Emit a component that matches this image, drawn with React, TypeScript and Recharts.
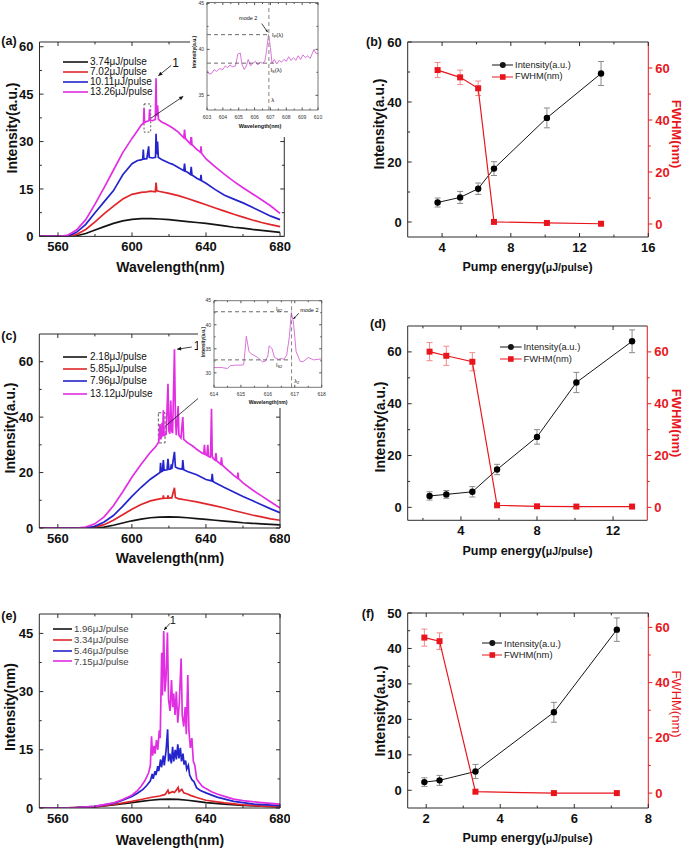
import React from "react";
import {
  LineChart,
  Line,
  XAxis,
  YAxis,
  ErrorBar,
  Legend,
  ReferenceLine,
  ReferenceArea,
  ReferenceDot,
} from "recharts";

const FONT = '"Liberation Sans", Arial, Helvetica, sans-serif';
const AXIS = "#2b2b2b";
const C_BLACK = "#141414";
const C_RED = "#e0262a";
const C_BLUE = "#2424cc";
const C_MAG = "#e22ee2";
const C_FWHM = "#e8161c";
const SPEC_COLORS = [C_BLACK, C_RED, C_BLUE, C_MAG];

type P = [number, number];

// ---------- (a) spectra ----------
const aLabels = ["3.74μJ/pulse", "7.02μJ/pulse", "10.11μJ/pulse", "13.26μJ/pulse"];
const a374: P[] = [[550, 0], [566, 0], [570, 0.2], [575, 0.9], [580, 2.0], [585, 3.1], [590, 4.1], [595, 4.9], [600, 5.4], [605, 5.6], [610, 5.6], [615, 5.5], [620, 5.3], [625, 5.0], [630, 4.7], [635, 4.4], [640, 4.1], [645, 3.7], [650, 3.3], [655, 2.9], [660, 2.6], [665, 2.2], [670, 1.9], [675, 1.6], [680, 1.3]];
const a702: P[] = [[550, 0], [565, 0], [570, 0.6], [575, 2.2], [580, 4.6], [585, 7.2], [590, 9.6], [595, 11.8], [600, 13.3], [605, 13.9], [608, 14.1], [610, 14.3], [612.6, 14.1], [613, 17], [613.4, 14.4], [615, 14.2], [620, 13.6], [625, 12.9], [630, 12.0], [635, 11.0], [640, 10.0], [645, 9.0], [650, 8.0], [655, 7.0], [660, 6.1], [665, 5.2], [670, 4.4], [675, 3.7], [680, 3.1]];
const a1011: P[] = [[550, 0], [565, 0], [570, 1.3], [575, 3.8], [580, 7.5], [585, 11.0], [590, 14.5], [595, 19.5], [600, 23], [603, 24], [605, 24.2], [605.8, 24.5], [606.1, 27.5], [606.4, 24.5], [608, 24.6], [609, 28.5], [609.3, 25], [611, 24.8], [612.7, 25], [613, 32.5], [613.3, 26], [613.8, 30], [614.2, 25], [616, 24.3], [618, 23.8], [620, 23.2], [622, 22.8], [625, 21.8], [628, 20.8], [628.4, 23], [628.8, 20.6], [630, 20.3], [631.6, 19.6], [632, 22], [632.4, 19.4], [635, 18.4], [637, 17.8], [637.3, 19.5], [637.6, 17.6], [640, 16.8], [645, 14.8], [650, 13], [655, 11.8], [660, 10.6], [665, 9.2], [670, 7.8], [675, 6.4], [680, 5.3]];
const a1326: P[] = [[550, 0], [560, 0], [565, 0.3], [570, 2.0], [575, 5.3], [580, 10.2], [585, 15.5], [590, 21], [595, 26.5], [600, 31], [603, 33.5], [605, 35.2], [606.2, 35.8], [606.5, 40.5], [606.8, 36], [608, 36.4], [609.2, 36.6], [609.5, 40.2], [609.8, 36.8], [611, 36.6], [612.6, 37], [613, 50], [613.3, 38], [613.8, 41.5], [614.3, 37], [616, 36.2], [618, 35.6], [620, 35], [622, 34.3], [625, 33], [628, 31.2], [628.4, 33.8], [628.8, 31], [630, 30.2], [631.6, 29.2], [632, 32.5], [632.4, 29], [635, 27.5], [637, 26.6], [637.3, 28.5], [637.6, 26.3], [640, 24.5], [645, 22], [650, 19.6], [655, 17.4], [660, 15.4], [665, 13.5], [670, 11.6], [675, 9.6], [680, 7.3]];
// inset (a): 603-610 nm zoom of the 13.26 µJ trace
const aInset: P[] = [[603, 37.7], [603.15, 37.3], [603.3, 37.4], [603.45, 37.8], [603.6, 37.6], [603.8, 37.9], [604, 37.8], [604.15, 38.2], [604.3, 38.0], [604.45, 38.3], [604.6, 38.1], [604.8, 38.2], [604.95, 39.5], [605.1, 39.6], [605.2, 38.4], [605.35, 37.8], [605.5, 38.3], [605.6, 38.9], [605.75, 38.2], [605.9, 38.5], [606.05, 38.7], [606.2, 38.3], [606.35, 38.6], [606.5, 38.5], [606.65, 38.7], [606.75, 39.8], [606.88, 41.6], [607.0, 40.2], [607.1, 38.5], [607.25, 38.9], [607.4, 38.4], [607.55, 38.8], [607.7, 38.6], [607.85, 38.9], [608, 38.7], [608.15, 39.2], [608.3, 38.8], [608.45, 39.1], [608.6, 38.8], [608.75, 39.3], [608.9, 38.9], [609.05, 39.4], [609.2, 39.1], [609.35, 39.3], [609.5, 39.0], [609.65, 39.6], [609.75, 40.0], [609.85, 39.6], [610, 39.5]];

// ---------- (c) spectra ----------
const cLabels = ["2.18μJ/pulse", "5.85μJ/pulse", "7.96μJ/pulse", "13.12μJ/pulse"];
const c218: P[] = [[550, 0], [580, 0], [585, 0.3], [590, 1.0], [595, 1.8], [600, 2.6], [605, 3.2], [610, 3.7], [615, 3.9], [620, 4.0], [625, 3.9], [630, 3.7], [635, 3.4], [640, 3.1], [645, 2.8], [650, 2.5], [655, 2.2], [660, 1.9], [665, 1.7], [670, 1.5], [675, 1.3], [680, 1.1]];
const c585: P[] = [[550, 0], [575, 0], [580, 0.3], [585, 1.2], [590, 2.8], [595, 4.8], [600, 6.8], [605, 8.5], [610, 9.8], [615, 10.5], [616.8, 10.7], [617, 11.8], [617.3, 10.7], [619.2, 10.8], [619.5, 11.8], [619.8, 10.8], [621, 10.9], [621.5, 10.8], [623, 14.5], [623.5, 11], [625, 10.6], [630, 10], [635, 9.4], [640, 8.7], [645, 8], [650, 7.2], [655, 6.3], [660, 5.5], [665, 4.7], [670, 4.0], [675, 3.3], [680, 2.8]];
const c796: P[] = [[550, 0], [575, 0], [580, 0.6], [585, 2.2], [590, 4.5], [595, 7.8], [600, 11.4], [605, 14.7], [610, 17.6], [614, 19.5], [615.2, 20], [615.5, 23.5], [615.8, 20.3], [616.5, 20.5], [617, 24.5], [617.4, 20.8], [619, 21], [619.5, 25], [620, 21.2], [621, 21.3], [621.3, 23], [621.6, 21.3], [623, 27.5], [623.5, 22], [625, 21.5], [627.2, 21.2], [627.5, 24.5], [628, 21], [630, 20.4], [635, 19.2], [640, 17.5], [643, 17], [643.4, 19.5], [643.8, 16.8], [645, 16.3], [650, 14.6], [655, 13], [660, 11.4], [665, 9.9], [670, 8.4], [675, 6.9], [680, 5.5]];
const c1312: P[] = [[550, 0], [570, 0], [575, 0.3], [580, 1.5], [585, 4], [590, 8], [595, 13], [600, 18.3], [605, 23], [610, 27.3], [613, 29.5], [614.5, 31], [615.2, 37.5], [615.5, 32], [616, 32.8], [616.3, 38], [616.6, 33], [617, 42.5], [617.4, 33.5], [618.5, 33.8], [619.5, 52], [620, 35], [620.5, 34], [621, 46], [621.5, 35], [622, 34.2], [623, 64.5], [623.5, 40], [624, 33.5], [625, 44], [625.4, 33.5], [626.5, 32.5], [627.5, 40], [628, 32], [630, 30.8], [633, 29.5], [635, 28.4], [638, 27], [638.8, 26.8], [639.2, 30], [639.6, 26.5], [640.5, 26.2], [641, 30], [641.4, 25.8], [642.5, 25.5], [643, 43], [643.4, 26], [644, 25], [645, 24.5], [645.4, 27], [645.8, 24.2], [648, 23], [648.4, 25.5], [648.8, 22.8], [650, 22], [655, 19], [657, 18], [657.3, 20], [657.6, 17.8], [660, 16.3], [665, 13.8], [670, 11.6], [675, 9.4], [680, 7.2]];
// inset (c): 614-618 nm zoom of the 13.12 µJ trace
const cInset: P[] = [[614, 31.1], [614.3, 31.1], [614.5, 30.9], [614.6, 31.5], [614.8, 31.6], [615, 31.6], [615.1, 31.7], [615.15, 34.4], [615.2, 37.6], [615.3, 34.4], [615.4, 33.9], [615.6, 33.3], [615.8, 32.3], [615.9, 32.4], [616.0, 33.5], [616.05, 35.6], [616.15, 35.1], [616.25, 33.2], [616.4, 32.8], [616.5, 33.0], [616.6, 32.8], [616.7, 33.7], [616.8, 37.5], [616.87, 42.5], [616.95, 40.6], [617.05, 34.4], [617.2, 32.4], [617.3, 32.3], [617.5, 33.2], [617.7, 32.7], [617.85, 32.8], [618, 32.9]];

// ---------- (e) spectra ----------
const eLabels = ["1.96μJ/pulse", "3.34μJ/pulse", "5.46μJ/pulse", "7.15μJ/pulse"];
const e196: P[] = [[550, 0], [560, 0], [570, 0.1], [580, 0.3], [590, 0.8], [600, 1.4], [605, 1.7], [610, 2.0], [615, 2.2], [620, 2.3], [625, 2.2], [630, 2.0], [635, 1.7], [640, 1.4], [650, 1.0], [660, 0.7], [670, 0.45], [680, 0.3]];
const e334: P[] = [[550, 0], [560, 0], [570, 0.1], [580, 0.3], [590, 0.9], [600, 1.7], [605, 2.2], [610, 2.7], [615, 3.1], [618, 3.5], [619.5, 4.6], [620, 3.8], [622, 4.2], [623, 4.0], [624, 4.6], [625, 5.3], [625.5, 4.2], [627, 4.8], [628, 3.9], [630, 3.6], [632, 3.2], [635, 2.7], [640, 2.0], [650, 1.3], [660, 0.8], [670, 0.5], [680, 0.35]];
const e546: P[] = [[550, 0], [560, 0], [570, 0.1], [580, 0.4], [590, 1.2], [595, 2], [600, 3], [603, 3.8], [606, 4.8], [608, 5.8], [610, 7], [611, 8.8], [611.5, 7.5], [612.5, 9.5], [613, 8.5], [614, 10.8], [614.5, 9.5], [615.5, 12.5], [616, 10.5], [617, 13.5], [617.5, 11], [618.5, 15], [619.3, 20.3], [619.8, 12], [620.5, 14], [621.3, 11.5], [622, 15.8], [622.6, 12], [623.4, 15], [624, 12.5], [624.8, 16.4], [625.4, 12.8], [626.2, 15.5], [626.8, 12], [627.6, 14], [628.2, 11.2], [629, 12.2], [629.6, 10], [630.5, 11], [631.2, 8.5], [632.4, 7.3], [633.5, 6.8], [635, 5.2], [637, 4.5], [640, 3.9], [646, 2.8], [655, 1.7], [666, 1.0], [680, 0.6]];
const e715: P[] = [[550, 0], [560, 0], [570, 0.1], [580, 0.4], [590, 1.3], [595, 2.2], [600, 3.3], [603, 4.5], [605, 5.6], [607, 7], [609, 9], [610, 11], [610.6, 18.5], [611.2, 13.5], [612, 16], [612.5, 14], [613.3, 17.5], [614, 15], [614.8, 20], [615.3, 18], [616.1, 40], [616.5, 29], [617.2, 45.6], [617.8, 30], [618.4, 33], [619.2, 45.2], [619.8, 28], [620.6, 25], [621.4, 33], [622, 26], [622.6, 29.5], [623.3, 24], [624, 30], [624.8, 22], [625.6, 27], [626.6, 38.5], [627.2, 24], [628, 21], [628.8, 26], [629.4, 19], [630.2, 34.3], [630.8, 20], [631.6, 15.5], [632.4, 18], [633.2, 12], [634, 11], [635, 7.5], [636.5, 6.5], [638, 5.6], [640, 5.0], [643, 4.2], [646, 3.6], [650, 3.0], [655, 2.3], [660, 1.9], [670, 1.4], [680, 1.0]];

// ---------- (b) (d) (f) pump-energy series ----------
const bEnergy = [3.74, 5.05, 6.1, 7.02, 10.1, 13.25];
const bInt = [6.5, 8.2, 11.1, 17.8, 34.7, 49.5];
const bIntErr = [1.5, 2, 1.9, 2.3, 3.3, 4];
const bFwhm = [59.2, 56.4, 52.2, 0.8, 0.4, 0.1];
const bFwhmErr = [2.9, 2.8, 2.8, 0, 0, 0];

const dEnergy = [2.35, 3.23, 4.6, 5.9, 8.0, 10.07, 13.0];
const dInt = [4.4, 5.0, 6.0, 14.6, 27.2, 48.2, 64.1];
const dIntErr = [1.6, 1.5, 2, 2, 2.8, 3.9, 4.4];
const dFwhm = [60.1, 58.5, 56.2, 0.8, 0.4, 0.3, 0.3];
const dFwhmErr = [3.5, 3.7, 3.5, 0, 0, 0, 0];

const fEnergy = [1.95, 2.36, 3.33, 5.45, 7.15];
const fInt = [2.3, 2.8, 5.3, 22.0, 45.3];
const fIntErr = [1.2, 1.4, 2, 2.8, 3.3];
const fFwhm = [56.3, 55.0, 0.5, 0, 0];
const fFwhmErr = [3.1, 3, 0, 0, 0];

const specXTicks = [560, 580, 600, 620, 640, 660, 680];
const specXMajor = [560, 600, 640, 680];

const toRows = (a: P[]) => a.map(([x, y]) => ({ x, y }));
const pumpRows = (e: number[], i: number[], ie: number[], f: number[], fe: number[]) =>
  e.map((v, k) => ({ e: v, i: i[k], ie: ie[k], f: f[k], fe: fe[k] }));

type Side = "bottom" | "top" | "left" | "right";
interface TickOpt {
  side: Side;
  majors: number[];
  labels?: boolean;
  out?: boolean;
  color?: string;
  textColor?: string;
  size?: number;
  len?: number;
  gap?: number;
  weight?: number;
}

function ticker(o: TickOpt) {
  const len = o.len ?? 4;
  const size = o.size ?? 13;
  const gap = o.gap ?? 6;
  const color = o.color ?? AXIS;
  return (p: any) => {
    const v: number = p.payload.value;
    const major = o.majors.some((m) => Math.abs(m - v) < 1e-9);
    const l = major ? len : len * 0.6;
    const s = o.out ? 1 : -1;
    const txt = o.labels && major ? String(v) : null;
    const st = { fontFamily: FONT, fontSize: size, fontWeight: o.weight ?? 700, fill: o.textColor ?? "#111" };
    if (o.side === "bottom" || o.side === "top") {
      const d = o.side === "bottom" ? 1 : -1;
      return (
        <g>
          <line x1={p.x} y1={p.y} x2={p.x} y2={p.y + d * s * l} stroke={color} strokeWidth={1} />
          {txt && (
            <text x={p.x} y={p.y + d * gap} textAnchor="middle" style={st}>
              {txt}
            </text>
          )}
        </g>
      );
    }
    const d = o.side === "right" ? 1 : -1;
    return (
      <g>
        <line x1={p.x} y1={p.y} x2={p.x + d * s * l} y2={p.y} stroke={color} strokeWidth={1} />
        {txt && (
          <text x={p.x + d * gap} y={p.y + size * 0.35} textAnchor={d > 0 ? "start" : "end"} style={st}>
            {txt}
          </text>
        )}
      </g>
    );
  };
}

const arrowShape = (head = 4.5, color = "#111") => (p: any) => {
  const { x1, y1, x2, y2 } = p;
  if ([x1, y1, x2, y2].some((v) => typeof v !== "number" || isNaN(v))) return <g />;
  const a = Math.atan2(y2 - y1, x2 - x1);
  const h1x = x2 - head * Math.cos(a - 0.45);
  const h1y = y2 - head * Math.sin(a - 0.45);
  const h2x = x2 - head * Math.cos(a + 0.45);
  const h2y = y2 - head * Math.sin(a + 0.45);
  return (
    <g>
      <line x1={x1} y1={y1} x2={x2} y2={y2} stroke={color} strokeWidth={0.8} />
      <polygon points={`${x2},${y2} ${h1x},${h1y} ${h2x},${h2y}`} fill={color} />
    </g>
  );
};

const noteShape = (content: React.ReactNode, size: number, anchor = "middle", color = "#111") => (p: any) => (
  <text x={p.cx} y={p.cy + size * 0.35} textAnchor={anchor} style={{ fontFamily: FONT, fontSize: size, fill: color }}>
    {content}
  </text>
);

function Txt(props: { x: number; y: number; rot?: number; size: number; bold?: boolean; color?: string; children: React.ReactNode }) {
  const { x, y, rot, size, bold, color, children } = props;
  return (
    <div
      style={{
        position: "absolute",
        left: x,
        top: y,
        transform: `translate(-50%, -50%)${rot ? ` rotate(${rot}deg)` : ""}`,
        whiteSpace: "nowrap",
        fontFamily: FONT,
        fontSize: size,
        fontWeight: bold ? 700 : 400,
        color: color ?? "#111",
        lineHeight: 1,
      }}
    >
      {children}
    </div>
  );
}

interface LegendSpec {
  x: number; // page x of line sample start
  y: number; // page y of first row centre
  step: number;
  lineLen: number;
  gap: number;
  size: number;
  textColor: string;
}

function SpecLegend({ labels, spec }: { labels: string[]; spec: LegendSpec }) {
  return (
    <div style={{ position: "relative", width: 140, height: spec.step * labels.length }}>
      {labels.map((t, i) => (
        <div
          key={t}
          style={{ position: "absolute", left: 0, top: i * spec.step, height: spec.step, display: "flex", alignItems: "center", whiteSpace: "nowrap" }}
        >
          <svg width={spec.lineLen} height={4} style={{ display: "block" }}>
            <line x1={0} y1={2} x2={spec.lineLen} y2={2} stroke={SPEC_COLORS[i]} strokeWidth={1.6} />
          </svg>
          <span style={{ marginLeft: spec.gap, fontFamily: FONT, fontSize: spec.size, color: spec.textColor, lineHeight: 1 }}>{t}</span>
        </div>
      ))}
    </div>
  );
}

// axes are 1px thick so Recharts draws them; margins absorb that pixel
function SpectrumPanel(props: {
  plot: [number, number, number, number];
  xDom: [number, number];
  yDom: [number, number];
  yTicks: number[];
  yMajor: number[];
  series: P[][];
  labels: string[];
  legend: LegendSpec;
  children?: React.ReactNode;
}) {
  const [L, T, R, B] = props.plot;
  const top = T - 14;
  const width = R + 10;
  const height = B - top + 30;
  const lg = props.legend;
  return (
    <div style={{ position: "absolute", left: 0, top, width, height }}>
      <LineChart width={width} height={height} margin={{ top: 13, right: 9, bottom: 29, left: L - 1 }}>
        <XAxis xAxisId="b" type="number" dataKey="x" domain={props.xDom} allowDataOverflow ticks={specXTicks} interval={0} height={1} tickSize={0} tickMargin={0} tickLine={false} axisLine={{ stroke: AXIS }} tick={ticker({ side: "bottom", majors: specXMajor, labels: true, gap: 14.5 })} />
        <XAxis xAxisId="t" orientation="top" type="number" dataKey="x" domain={props.xDom} allowDataOverflow ticks={specXTicks} interval={0} height={1} tickSize={0} tickMargin={0} tickLine={false} axisLine={{ stroke: AXIS }} tick={ticker({ side: "top", majors: specXMajor })} />
        <YAxis yAxisId="l" type="number" domain={props.yDom} allowDataOverflow ticks={props.yTicks} interval={0} width={1} tickSize={0} tickMargin={0} tickLine={false} axisLine={{ stroke: AXIS }} tick={ticker({ side: "left", majors: props.yMajor, labels: true })} />
        <YAxis yAxisId="r" orientation="right" type="number" domain={props.yDom} allowDataOverflow ticks={props.yTicks} interval={0} width={1} tickSize={0} tickMargin={0} tickLine={false} axisLine={{ stroke: AXIS }} tick={ticker({ side: "right", majors: props.yMajor })} />
        {props.series.map((s, i) => (
          <Line key={props.labels[i]} name={props.labels[i]} xAxisId="b" yAxisId="l" data={toRows(s)} dataKey="y" type="linear" stroke={SPEC_COLORS[i]} strokeWidth={1.7} dot={false} activeDot={false} isAnimationActive={false} />
        ))}
        <Legend
          layout="vertical"
          align="center"
          verticalAlign="middle"
          wrapperStyle={{ left: lg.x, top: lg.y - lg.step / 2 - top, width: 140, height: lg.step * 4 }}
          content={() => <SpecLegend labels={props.labels} spec={lg} />}
        />
        {props.children}
      </LineChart>
    </div>
  );
}

function InsetPanel(props: {
  bg: [number, number, number, number];
  plot: [number, number, number, number];
  data: P[];
  xDom: [number, number];
  xTicks: number[];
  xMajor: number[];
  yDom: [number, number];
  yTicks: number[];
  yMajor: number[];
  children?: React.ReactNode;
}) {
  const [bl, bt, br, bb] = props.bg;
  const [L, T, R, B] = props.plot;
  const w = br - bl;
  const h = bb - bt;
  const tk = { size: 5, len: 2.5, weight: 400, textColor: "#333", color: "#555" };
  return (
    <div style={{ position: "absolute", left: bl, top: bt, width: w, height: h, background: "#fff" }}>
      <LineChart width={w} height={h} margin={{ top: T - bt - 1, bottom: bb - B - 1, left: L - bl - 1, right: br - R - 1 }}>
        <XAxis xAxisId="b" type="number" dataKey="x" domain={props.xDom} allowDataOverflow ticks={props.xTicks} interval={0} height={1} tickSize={0} tickMargin={0} tickLine={false} axisLine={{ stroke: "#555", strokeWidth: 0.8 }} tick={ticker({ side: "bottom", majors: props.xMajor, labels: true, gap: 8.5, ...tk })} />
        <XAxis xAxisId="t" orientation="top" type="number" dataKey="x" domain={props.xDom} allowDataOverflow ticks={props.xTicks} interval={0} height={1} tickSize={0} tickMargin={0} tickLine={false} axisLine={{ stroke: "#555", strokeWidth: 0.8 }} tick={ticker({ side: "top", majors: props.xMajor, ...tk })} />
        <YAxis yAxisId="l" type="number" domain={props.yDom} allowDataOverflow ticks={props.yTicks} interval={0} width={1} tickSize={0} tickMargin={0} tickLine={false} axisLine={{ stroke: "#555", strokeWidth: 0.8 }} tick={ticker({ side: "left", majors: props.yMajor, labels: true, gap: 3, ...tk })} />
        <YAxis yAxisId="r" orientation="right" type="number" domain={props.yDom} allowDataOverflow ticks={props.yTicks} interval={0} width={1} tickSize={0} tickMargin={0} tickLine={false} axisLine={{ stroke: "#555", strokeWidth: 0.8 }} tick={ticker({ side: "right", majors: props.yMajor, ...tk })} />
        <Line xAxisId="b" yAxisId="l" data={toRows(props.data)} dataKey="y" type="linear" stroke="#d466d4" strokeWidth={0.9} dot={false} activeDot={false} isAnimationActive={false} />
        {props.children}
      </LineChart>
    </div>
  );
}

function PumpLegend({ spec }: { spec: LegendSpec }) {
  const items = [
    { t: "Intensity(a.u.)", c: C_BLACK, sq: false },
    { t: "FWHM(nm)", c: C_FWHM, sq: true },
  ];
  const m = spec.lineLen / 2;
  return (
    <div style={{ position: "relative", width: 120, height: spec.step * 2 }}>
      {items.map((it, i) => (
        <div key={it.t} style={{ position: "absolute", left: 0, top: i * spec.step, height: spec.step, display: "flex", alignItems: "center", whiteSpace: "nowrap" }}>
          <svg width={spec.lineLen} height={8} style={{ display: "block" }}>
            <line x1={0} y1={4} x2={spec.lineLen} y2={4} stroke={it.c} strokeWidth={1} />
            {it.sq ? <rect x={m - 2.8} y={1.2} width={5.6} height={5.6} fill={it.c} /> : <circle cx={m} cy={4} r={3} fill={it.c} />}
          </svg>
          <span style={{ marginLeft: spec.gap, fontFamily: FONT, fontSize: spec.size, color: spec.textColor, lineHeight: 1 }}>{it.t}</span>
        </div>
      ))}
    </div>
  );
}

const circleDot = (p: any) => <circle key={`c${p.index}`} cx={p.cx} cy={p.cy} r={3.2} fill="#000" />;
const squareDot = (p: any) => <rect key={`s${p.index}`} x={p.cx - 3} y={p.cy - 3} width={6} height={6} fill={C_FWHM} />;

function PumpPanel(props: {
  plot: [number, number, number, number];
  rows: any[];
  xDom: [number, number];
  xTicks: number[];
  xMajor: number[];
  lDom: [number, number];
  lTicks: number[];
  lMajor: number[];
  rDom: [number, number];
  rTicks: number[];
  rMajor: number[];
  legend: LegendSpec;
}) {
  const [L, T, R, B] = props.plot;
  const left = 340;
  const width = 345;
  const top = T - 14;
  const height = B - top + 30;
  const lg = props.legend;
  return (
    <div style={{ position: "absolute", left, top, width, height }}>
      <LineChart width={width} height={height} data={props.rows} margin={{ top: 13, bottom: 29, left: L - left - 1, right: left + width - R - 1 }}>
        <XAxis xAxisId="b" dataKey="e" type="number" domain={props.xDom} allowDataOverflow ticks={props.xTicks} interval={0} height={1} tickSize={0} tickMargin={0} tickLine={false} axisLine={{ stroke: AXIS }} tick={ticker({ side: "bottom", majors: props.xMajor, labels: true, gap: 14.5 })} />
        <XAxis xAxisId="t" orientation="top" dataKey="e" type="number" domain={props.xDom} allowDataOverflow ticks={props.xTicks} interval={0} height={1} tickSize={0} tickMargin={0} tickLine={false} axisLine={{ stroke: AXIS }} tick={ticker({ side: "top", majors: props.xMajor })} />
        <YAxis yAxisId="l" type="number" domain={props.lDom} allowDataOverflow ticks={props.lTicks} interval={0} width={1} tickSize={0} tickMargin={0} tickLine={false} axisLine={{ stroke: AXIS }} tick={ticker({ side: "left", majors: props.lMajor, labels: true })} />
        <YAxis yAxisId="r" orientation="right" type="number" domain={props.rDom} allowDataOverflow ticks={props.rTicks} interval={0} width={1} tickSize={0} tickMargin={0} tickLine={false} axisLine={{ stroke: C_FWHM }} tick={ticker({ side: "right", majors: props.rMajor, labels: true, out: true, color: C_FWHM, textColor: C_FWHM, gap: 7 })} />
        <Line xAxisId="b" yAxisId="l" dataKey="i" name="Intensity(a.u.)" type="linear" stroke={C_BLACK} strokeWidth={1} dot={circleDot} activeDot={false} isAnimationActive={false}>
          <ErrorBar dataKey="ie" direction="y" width={3} stroke="#8a8a8a" strokeWidth={1} isAnimationActive={false} />
        </Line>
        <Line xAxisId="b" yAxisId="r" dataKey="f" name="FWHM(nm)" type="linear" stroke={C_FWHM} strokeWidth={1.2} dot={squareDot} activeDot={false} isAnimationActive={false}>
          <ErrorBar dataKey="fe" direction="y" width={3} stroke="#f08a8a" strokeWidth={1} isAnimationActive={false} />
        </Line>
        <Legend
          layout="vertical"
          align="center"
          verticalAlign="middle"
          wrapperStyle={{ left: lg.x - left, top: lg.y - lg.step / 2 - top, width: 120, height: lg.step * 2 }}
          content={() => <PumpLegend spec={lg} />}
        />
      </LineChart>
    </div>
  );
}

const ids = { xAxisId: "b", yAxisId: "l" } as const;

export default function App() {
  const energyTitle = (
    <>
      Pump energy(<span style={{ fontSize: 10.5 }}>μJ/pulse</span>)
    </>
  );
  return (
    <div style={{ position: "absolute", left: 0, top: 0, width: 685, height: 849, background: "#fff", overflow: "hidden" }}>
      {/* (a) */}
      <SpectrumPanel
        plot={[39.5, 42.3, 284.3, 236.7]}
        xDom={[550, 682.3]}
        yDom={[0, 61.5]}
        yTicks={[0, 7.5, 15, 22.5, 30, 37.5, 45, 52.5, 60]}
        yMajor={[0, 15, 30, 45, 60]}
        series={[a374, a702, a1011, a1326]}
        labels={aLabels}
        legend={{ x: 63, y: 61.7, step: 10, lineLen: 25, gap: 2, size: 10, textColor: "#111" }}
      >
        <ReferenceArea {...ids} x1={606.5} x2={610.1} y1={33} y2={41.9} fill="none" stroke="#333" strokeWidth={0.8} strokeDasharray="2 2" ifOverflow="visible" />
        <ReferenceLine {...ids} segment={[{ x: 610.2, y: 37.4 }, { x: 627.7, y: 44.3 }]} ifOverflow="visible" shape={arrowShape()} />
        <ReferenceLine {...ids} segment={[{ x: 621.2, y: 54.1 }, { x: 614.2, y: 50.8 }]} ifOverflow="visible" shape={arrowShape()} />
        <ReferenceDot {...ids} x={623.6} y={54.8} ifOverflow="visible" shape={noteShape("1", 12)} />
      </SpectrumPanel>
      <InsetPanel
        bg={[190, 0, 340, 137]}
        plot={[207, 2.5, 318, 110]}
        data={aInset}
        xDom={[603, 610]}
        xTicks={[603, 603.5, 604, 604.5, 605, 605.5, 606, 606.5, 607, 607.5, 608, 608.5, 609, 609.5, 610]}
        xMajor={[603, 604, 605, 606, 607, 608, 609, 610]}
        yDom={[33.4, 45.1]}
        yTicks={[35, 37.5, 40, 42.5, 45]}
        yMajor={[35, 40, 45]}
      >
        <ReferenceLine {...ids} x={606.9} stroke="#9a9a9a" strokeWidth={1.2} strokeDasharray="4 3" ifOverflow="visible" />
        <ReferenceLine {...ids} segment={[{ x: 603, y: 41.6 }, { x: 606.9, y: 41.6 }]} stroke="#444" strokeWidth={0.8} strokeDasharray="4 3" ifOverflow="visible" />
        <ReferenceLine {...ids} segment={[{ x: 603, y: 38.5 }, { x: 607.25, y: 38.5 }]} stroke="#444" strokeWidth={0.8} strokeDasharray="4 3" ifOverflow="visible" />
        <ReferenceLine {...ids} segment={[{ x: 606.45, y: 42.8 }, { x: 606.82, y: 41.9 }]} ifOverflow="visible" shape={arrowShape(2.5)} />
        <ReferenceDot {...ids} x={605.6} y={43.4} ifOverflow="visible" shape={noteShape("mode 2", 5.5)} />
        <ReferenceDot {...ids} x={607.1} y={41.6} ifOverflow="visible" shape={noteShape(<>I<tspan fontSize={4} dy={1}>P</tspan><tspan dy={-1}>(λ)</tspan></>, 6, "start")} />
        <ReferenceDot {...ids} x={607.0} y={37.8} ifOverflow="visible" shape={noteShape(<>I<tspan fontSize={4} dy={1}>S</tspan><tspan dy={-1}>(λ)</tspan></>, 6, "start")} />
        <ReferenceDot {...ids} x={607.05} y={34.5} ifOverflow="visible" shape={noteShape("λ", 6, "start")} />
      </InsetPanel>
      <Txt x={194} y={52} rot={-90} size={5} bold>Intensity(a.u.)</Txt>
      <Txt x={260} y={127} size={5.5} bold>Wavelength(nm)</Txt>

      {/* (b) */}
      <PumpPanel
        plot={[407.7, 42.3, 648.3, 237.3]}
        rows={pumpRows(bEnergy, bInt, bIntErr, bFwhm, bFwhmErr)}
        xDom={[2, 16]}
        xTicks={[4, 6, 8, 10, 12, 14, 16]}
        xMajor={[4, 8, 12, 16]}
        lDom={[-5, 60]}
        lTicks={[0, 10, 20, 30, 40, 50, 60]}
        lMajor={[0, 20, 40, 60]}
        rDom={[-5, 70]}
        rTicks={[0, 10, 20, 30, 40, 50, 60]}
        rMajor={[0, 20, 40, 60]}
        legend={{ x: 491.7, y: 65.3, step: 11.4, lineLen: 21.6, gap: 1.8, size: 9.2, textColor: "#222" }}
      />

      {/* (c) */}
      <SpectrumPanel
        plot={[39.3, 334.3, 280, 528.3]}
        xDom={[550, 680]}
        yDom={[0, 70]}
        yTicks={[0, 10, 20, 30, 40, 50, 60]}
        yMajor={[0, 20, 40, 60]}
        series={[c218, c585, c796, c1312]}
        labels={cLabels}
        legend={{ x: 63, y: 356.7, step: 12.3, lineLen: 24, gap: 3, size: 10, textColor: "#111" }}
      >
        <ReferenceArea {...ids} x1={614.3} x2={617.9} y1={30.7} y2={41.6} fill="none" stroke="#333" strokeWidth={0.8} strokeDasharray="3 2" ifOverflow="visible" />
        <ReferenceLine {...ids} segment={[{ x: 618, y: 36.7 }, { x: 644, y: 51.4 }]} ifOverflow="visible" shape={arrowShape()} />
        <ReferenceLine {...ids} segment={[{ x: 632.3, y: 65.3 }, { x: 624.4, y: 64.5 }]} ifOverflow="visible" shape={arrowShape()} />
        <ReferenceDot {...ids} x={635.2} y={65.6} ifOverflow="visible" shape={noteShape("1", 12)} />
      </SpectrumPanel>
      <InsetPanel
        bg={[198, 287, 340, 408]}
        plot={[214, 300.7, 321.7, 387.3]}
        data={cInset}
        xDom={[614, 618]}
        xTicks={[614, 614.5, 615, 615.5, 616, 616.5, 617, 617.5, 618]}
        xMajor={[614, 615, 616, 617, 618]}
        yDom={[27, 45]}
        yTicks={[30, 32.5, 35, 37.5, 40, 42.5, 45]}
        yMajor={[30, 35, 40, 45]}
      >
        <ReferenceLine {...ids} x={616.88} stroke="#777" strokeWidth={0.9} strokeDasharray="4 3" ifOverflow="visible" />
        <ReferenceLine {...ids} segment={[{ x: 614, y: 42.7 }, { x: 616.88, y: 42.7 }]} stroke="#444" strokeWidth={0.8} strokeDasharray="4 3" ifOverflow="visible" />
        <ReferenceLine {...ids} segment={[{ x: 614, y: 32.7 }, { x: 616.88, y: 32.7 }]} stroke="#444" strokeWidth={0.8} strokeDasharray="4 3" ifOverflow="visible" />
        <ReferenceLine {...ids} segment={[{ x: 617.15, y: 42.4 }, { x: 616.95, y: 41.2 }]} ifOverflow="visible" shape={arrowShape(2.5)} />
        <ReferenceDot {...ids} x={617.2} y={43.1} ifOverflow="visible" shape={noteShape("mode 2", 5.5, "start")} />
        <ReferenceDot {...ids} x={616.3} y={43.3} ifOverflow="visible" shape={noteShape(<>I<tspan fontSize={4} dy={1}>P2</tspan></>, 5.5, "start")} />
        <ReferenceDot {...ids} x={616.3} y={31.6} ifOverflow="visible" shape={noteShape(<>I<tspan fontSize={4} dy={1}>S2</tspan></>, 5.5, "start")} />
        <ReferenceDot {...ids} x={616.98} y={28.3} ifOverflow="visible" shape={noteShape(<>λ<tspan fontSize={4} dy={1}>2</tspan></>, 5.5, "start")} />
      </InsetPanel>
      <Txt x={203.5} y={342} rot={-90} size={4.6} bold>Intensity(a.u.)</Txt>
      <Txt x={268} y={401.5} size={5} bold>Wavelength(nm)</Txt>

      {/* (d) */}
      <PumpPanel
        plot={[407.7, 325.7, 647.3, 520]}
        rows={pumpRows(dEnergy, dInt, dIntErr, dFwhm, dFwhmErr)}
        xDom={[1.2, 13.8]}
        xTicks={[2, 4, 6, 8, 10, 12]}
        xMajor={[4, 8, 12]}
        lDom={[-5, 70]}
        lTicks={[0, 10, 20, 30, 40, 50, 60]}
        lMajor={[0, 20, 40, 60]}
        rDom={[-5, 70]}
        rTicks={[0, 10, 20, 30, 40, 50, 60]}
        rMajor={[0, 20, 40, 60]}
        legend={{ x: 500, y: 346.7, step: 12.3, lineLen: 21.7, gap: 1.8, size: 9.4, textColor: "#222" }}
      />

      {/* (e) */}
      <SpectrumPanel
        plot={[39.3, 614.3, 280, 808.3]}
        xDom={[550, 680]}
        yDom={[0, 50]}
        yTicks={[0, 7.5, 15, 22.5, 30, 37.5, 45]}
        yMajor={[0, 15, 30, 45]}
        series={[e196, e334, e546, e715]}
        labels={eLabels}
        legend={{ x: 53, y: 629, step: 10.8, lineLen: 19, gap: 2, size: 9.6, textColor: "#444" }}
      >
        <ReferenceLine {...ids} segment={[{ x: 620.6, y: 47.6 }, { x: 617.4, y: 45.9 }]} ifOverflow="visible" shape={arrowShape(3.5)} />
        <ReferenceDot {...ids} x={622.1} y={48.3} ifOverflow="visible" shape={noteShape("1", 11)} />
      </SpectrumPanel>

      {/* (f) */}
      <PumpPanel
        plot={[407.7, 613.3, 648.3, 808.3]}
        rows={pumpRows(fEnergy, fInt, fIntErr, fFwhm, fFwhmErr)}
        xDom={[1.5, 8]}
        xTicks={[2, 3, 4, 5, 6, 7, 8]}
        xMajor={[2, 4, 6, 8]}
        lDom={[-5, 50]}
        lTicks={[0, 5, 10, 15, 20, 25, 30, 35, 40, 45, 50]}
        lMajor={[0, 10, 20, 30, 40, 50]}
        rDom={[-5.4, 65.2]}
        rTicks={[0, 10, 20, 30, 40, 50, 60]}
        rMajor={[0, 20, 40, 60]}
        legend={{ x: 481.7, y: 643.3, step: 11.7, lineLen: 20.6, gap: 1.8, size: 9.4, textColor: "#222" }}
      />

      {/* axis titles and panel letters */}
      <Txt x={170.5} y={267} size={14} bold>Wavelength(nm)</Txt>
      <Txt x={12} y={128} rot={-90} size={14} bold>Intensity(a.u.)</Txt>
      <Txt x={527.5} y={267} size={12.5} bold>{energyTitle}</Txt>
      <Txt x={378.5} y={124} rot={-90} size={14} bold>Intensity(a.u.)</Txt>
      <Txt x={676} y={134} rot={90} size={13} bold color={C_FWHM}>FWHM(nm)</Txt>

      <Txt x={170} y={557.5} size={14} bold>Wavelength(nm)</Txt>
      <Txt x={10} y={428} rot={-90} size={14} bold>Intensity(a.u.)</Txt>
      <Txt x={527.5} y={550.5} size={12.5} bold>{energyTitle}</Txt>
      <Txt x={380} y={427} rot={-90} size={14} bold>Intensity(a.u.)</Txt>
      <Txt x={676} y={422.5} rot={90} size={13} bold color={C_FWHM}>FWHM(nm)</Txt>

      <Txt x={170} y={840} size={14} bold>Wavelength(nm)</Txt>
      <Txt x={10} y={707} rot={-90} size={14} bold>Intensity(nm)</Txt>
      <Txt x={527.5} y={838} size={12.5} bold>{energyTitle}</Txt>
      <Txt x={379.5} y={711} rot={-90} size={14} bold>Intensity(a.u.)</Txt>
      <Txt x={676} y={704} rot={90} size={13} color={C_FWHM}>FWHM(nm)</Txt>

      <Txt x={9} y={41} size={12.5} bold>(a)</Txt>
      <Txt x={374} y={42} size={12.5} bold>(b)</Txt>
      <Txt x={9} y={336} size={12.5} bold>(c)</Txt>
      <Txt x={378} y={323.5} size={12.5} bold>(d)</Txt>
      <Txt x={9} y={615.5} size={12.5} bold>(e)</Txt>
      <Txt x={368} y={613.5} size={12.5} bold>(f)</Txt>
    </div>
  );
}
